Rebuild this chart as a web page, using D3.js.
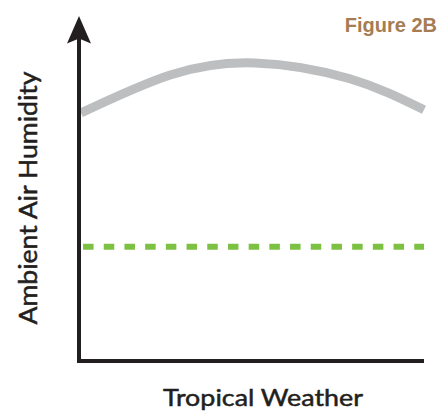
<!DOCTYPE html>
<html>
<head>
<meta charset="utf-8">
<script src="https://cdn.jsdelivr.net/npm/d3@7"></script>
<style>
  html, body { margin: 0; padding: 0; background: #fff; }
  svg { display: block; }
</style>
</head>
<body>
<svg id="chart" width="441" height="414"></svg>
<script>
// values (x: 0-100 along the axis, y: 0-100 humidity)
const curveX = [0, 26, 50.7, 78.4, 100]
const curveY = [71.9, 82.9, 86.4, 81.8, 72.8]
const baselineX = [0.6, 100]
const baselineY = [33.1, 33.1]

const title = 'Figure 2B'
const xLabel = 'Tropical Weather'
const yLabel = 'Ambient Air Humidity'

const svg = d3.select('#chart')

const x = d3.scaleLinear().domain([0, 100]).range([81, 424])
const y = d3.scaleLinear().domain([0, 100]).range([361, 16])

const line = d3.line()
  .x(d => x(d[0]))
  .y(d => y(d[1]))
  .curve(d3.curveNatural)

// grey curve
svg.append('path')
  .datum(d3.zip(curveX, curveY))
  .attr('d', line)
  .attr('fill', 'none')
  .attr('stroke', '#bcbec0')
  .attr('stroke-width', 9)

// green dashed line
svg.append('path')
  .datum(d3.zip(baselineX, baselineY))
  .attr('d', line)
  .attr('fill', 'none')
  .attr('stroke', '#7cc142')
  .attr('stroke-width', 6)
  .attr('stroke-dasharray', '10.5,10.2')

// axes
const axisColor = '#231f20'
svg.append('line')
  .attr('x1', x(0) - 2).attr('x2', x(0) - 2)
  .attr('y1', y(0) + 2).attr('y2', y(94))
  .attr('stroke', axisColor)
  .attr('stroke-width', 4)

svg.append('line')
  .attr('x1', x(0) - 4).attr('x2', x(100))
  .attr('y1', y(0)).attr('y2', y(0))
  .attr('stroke', axisColor)
  .attr('stroke-width', 4)

// arrow head
const ax = x(0) - 2
svg.append('path')
  .attr('d', `M${ax},${y(100)} L${ax + 12},${y(92)} L${ax},${y(93.5)} L${ax - 12},${y(92)} Z`)
  .attr('fill', axisColor)

// labels
svg.append('text')
  .attr('x', 437)
  .attr('y', 32)
  .attr('text-anchor', 'end')
  .style('font', 'bold 20px "Liberation Sans", Arial, sans-serif')
  .style('fill', '#a67c52')
  .text(title)

svg.append('text')
  .attr('x', 263)
  .attr('y', 406)
  .attr('text-anchor', 'middle')
  .attr('textLength', 200)
  .attr('lengthAdjust', 'spacingAndGlyphs')
  .style('font', '24px Lato, sans-serif')
  .style('fill', axisColor)
  .style('stroke', axisColor)
  .style('stroke-width', 0.5)
  .text(xLabel)

svg.append('text')
  .attr('transform', 'translate(37,198) rotate(-90)')
  .attr('text-anchor', 'middle')
  .attr('textLength', 253)
  .attr('lengthAdjust', 'spacingAndGlyphs')
  .style('font', '25px Lato, sans-serif')
  .style('fill', axisColor)
  .style('stroke', axisColor)
  .style('stroke-width', 0.5)
  .text(yLabel)
</script>
</body>
</html>
